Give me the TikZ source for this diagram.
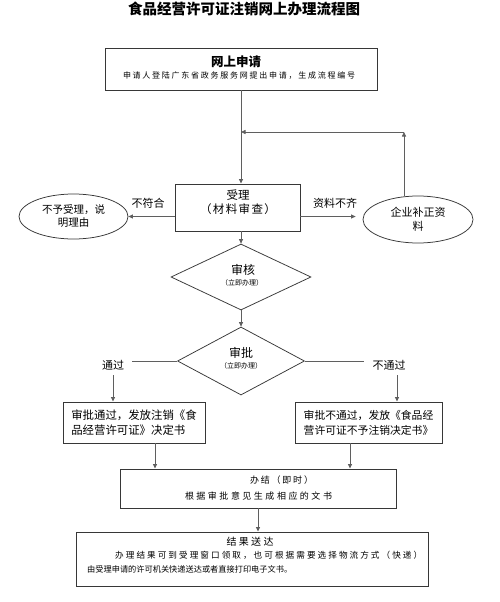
\documentclass[tikz,border=0pt]{standalone}
\usepackage{fontspec}
\setmainfont{Noto Sans CJK SC}
\usetikzlibrary{arrows.meta,shapes.geometric}
\def\spreadloop#1{\ifx#1\relax\else#1\expandafter\spreadnext\fi}
\def\spreadnext#1{\ifx#1\relax\else\hfil#1\expandafter\spreadnext\fi}
\newcommand\spreadto[2]{\makebox[#1][s]{\spreadloop#2\relax}}
\newcommand\fsz[2]{\fontsize{#1}{#2}\selectfont}
\definecolor{bd}{RGB}{55,55,55}
\definecolor{ln}{RGB}{95,95,95}
\begin{document}
\begin{tikzpicture}[x=1pt,y=-1pt,
  box/.style={draw=bd,line width=0.95pt,inner sep=0pt},
  dia/.style={draw=bd,line width=0.75pt,shape=diamond,inner sep=0pt},
  ell/.style={draw=bd,line width=0.75pt,shape=ellipse,inner sep=0pt,align=center},
  txt/.style={inner sep=0pt,text=black},
  arr/.style={draw=ln,line width=0.8pt,-{Triangle[length=4.5pt,width=4pt]}},
  ln/.style={draw=ln,line width=0.8pt}]
\useasboundingbox (0,0) rectangle (500,602);
\fill[white] (0,0) rectangle (500,602);

% title
\node[txt,font=\bfseries\fsz{14.5}{16}] (title) at (244,9) {食品经营许可证注销网上办理流程图};

% online application
\node[box,minimum width=272,minimum height=42] (apply) at (241,69) {};
\node[txt,font=\bfseries\fsz{12.5}{14}] (applyt) at (236,62) {网上申请};
\node[txt,font=\fsz{8}{10}] (applys) at (239,75.5) {\spreadto{232pt}{申请人登陆广东省政务服务网提出申请，生成流程编号}};

% acceptance
\node[box,minimum width=125,minimum height=47] (shouli) at (237.5,207.5) {};
\node[txt,font=\fsz{11.5}{13}] (shoulit) at (238,195) {受理};
\node[txt,font=\fsz{11.5}{13}] (shoulis) at (238,209) {\spreadto{76pt}{（材料审查）}};

% ellipses
\node[ell,minimum width=109,minimum height=45,font=\fsz{10.5}{13}] (no) at (73.5,216.5) {不予受理，说\\明理由};
\node[ell,minimum width=110,minimum height=47,font=\fsz{11}{14}] (bu) at (418,219.5) {企业补正资\\料};

% diamonds
\node[dia,minimum width=140,minimum height=66] (shenhe) at (241,277) {};
\node[txt,font=\fsz{12}{14}] (shenhet) at (243,270) {审核};
\node[txt,font=\fsz{7}{8}] (shenhes) at (242,282.5) {（立即办理）};
\node[dia,minimum width=127,minimum height=68] (shenpi) at (241,361) {};
\node[txt,font=\fsz{12}{14}] (shenpit) at (241,353) {审批};
\node[txt,font=\fsz{7}{8}] (shenpis) at (241,366) {（立即办理）};

% decision boxes
\node[box,minimum width=142,minimum height=41,align=left,font=\fsz{11.4}{15}] (lbox) at (134,422.5) {审批通过，发放注销《食\\品经营许可证》决定书};
\node[box,minimum width=147,minimum height=41,align=left,font=\fsz{10.8}{15}] (rbox) at (368.5,422.5) {审批不通过，发放《食品经\\营许可证不予注销决定书》};

% finish
\node[box,minimum width=276,minimum height=39] (banjie) at (258,488.5) {};
\node[txt,font=\fsz{9}{11}] (banjiet) at (281.5,480) {\spreadto{63pt}{办结（即时）}};
\node[txt,font=\fsz{9}{11}] (banjies) at (258.5,496) {\spreadto{147pt}{根据审批意见生成相应的文书}};

% result delivery
\node[box,minimum width=352,minimum height=54] (jieguo) at (252,559) {};
\node[txt,font=\fsz{10}{12}] (jieguot) at (250,542) {\spreadto{47pt}{结果送达}};
\node[txt,font=\fsz{8.6}{10},anchor=west] (jieguo2) at (115,555.5) {\spreadto{307pt}{办理结果可到受理窗口领取，也可根据需要选择物流方式（快递）}};
\node[txt,font=\fsz{8.2}{10},anchor=west] (jieguo3) at (87,569) {由受理申请的许可机关快递送达或者直接打印电子文书。};

% labels
\node[txt,font=\fsz{11}{13}] (nofit) at (148,203) {不符合};
\node[txt,font=\fsz{11}{13}] (lack) at (335,203) {资料不齐};
\node[txt,font=\fsz{11}{13}] (pass) at (113,365) {通过};
\node[txt,font=\fsz{11}{13}] (fail) at (389,365) {不通过};

% connectors
\draw[arr] (apply.south) -- (apply.south |- shouli.north);
\coordinate (fb) at (404,132);
\draw[arr] (bu.north -| fb) -- (fb);
\draw[arr] (fb) -- (fb -| apply.south);
\draw[arr] (no.east -| shouli.west) -- (no.east);
\draw[arr] (no.east -| shouli.east) -- ([xshift=-7pt]bu.west |- no.east);
\draw[arr] (shenhe.north |- shouli.south) -- (shenhe.north);
\draw[arr] (shenhe.south) -- (shenpi.north);
\draw[ln] (shenpi.west) -- ([xshift=8pt]pass.east |- shenpi.west);
\draw[arr] ([yshift=-5pt]pass.south) -- (pass.south |- lbox.north);
\draw[ln] (shenpi.east) -- ([xshift=-8pt]fail.west |- shenpi.east);
\draw[arr] ([xshift=8pt,yshift=-5pt]fail.south) -- ([xshift=8pt]fail.south |- rbox.north);
\draw[arr] ([xshift=21pt]lbox.south) -- ([xshift=21pt]lbox.south |- banjie.north);
\draw[arr] ([xshift=-18.5pt]rbox.south) -- ([xshift=-18.5pt]rbox.south |- banjie.north);
\draw[arr] (banjie.south) -- (banjie.south |- jieguo.north);
\end{tikzpicture}
\end{document}
